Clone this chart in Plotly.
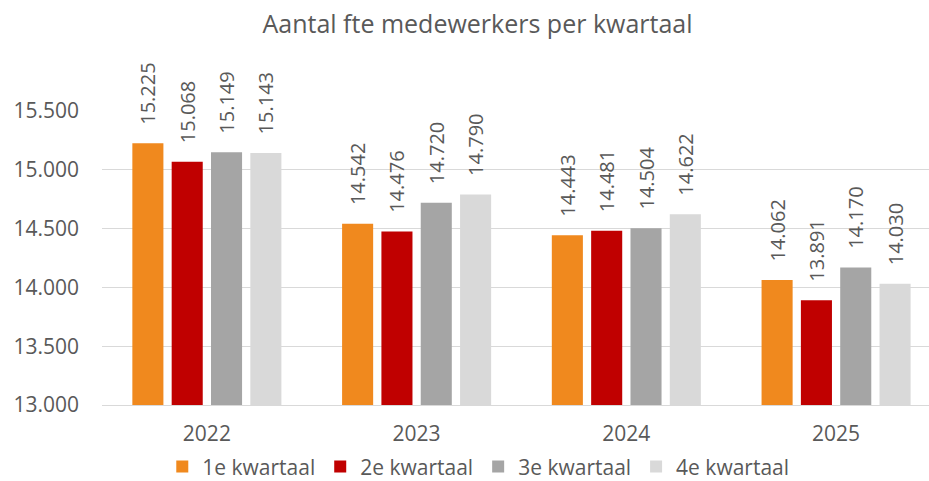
import plotly.graph_objects as go

years = ["2022", "2023", "2024", "2025"]
series_names = ["1e kwartaal", "2e kwartaal", "3e kwartaal", "4e kwartaal"]
q1 = [15225, 14542, 14443, 14062]
q2 = [15068, 14476, 14481, 13891]
q3 = [15149, 14720, 14504, 14170]
q4 = [15143, 14790, 14622, 14030]
colors = ["#F0891E", "#C00000", "#A5A5A5", "#D9D9D9"]

FONT = "Open Sans"
TXT = "#595959"

fig = go.Figure()
for name, vals, col in zip(series_names, [q1, q2, q3, q4], colors):
    fig.add_trace(go.Bar(
        x=years, y=vals, name=name,
        marker=dict(color=col, line=dict(width=0)),
        texttemplate="\u00a0\u00a0\u00a0%{y:,d}",
        textposition="outside",
        textangle=-90,
        constraintext="none",
        cliponaxis=False,
        textfont=dict(family=FONT, size=20, color=TXT),
    ))

fig.update_layout(
    width=929, height=481,
    separators=",.",
    barmode="group",
    bargap=0.25, bargroupgap=0.21,
    plot_bgcolor="white", paper_bgcolor="white",
    margin=dict(l=102, r=0, t=111, b=76, autoexpand=False),
    font=dict(family=FONT, size=20, color=TXT),
    title=dict(text="Aantal fte medewerkers per kwartaal", x=0.514, xanchor="center",
               y=1 - 24/481, yanchor="middle",
               font=dict(family=FONT, size=25, color=TXT)),
    legend=dict(orientation="h", x=0.455, xanchor="center", y=-0.21, yanchor="middle",
                font=dict(family=FONT, size=21, color=TXT), itemwidth=30, traceorder="normal"),
    showlegend=True,
)
fig.update_yaxes(range=[13000, 15500], tickvals=[13000, 13500, 14000, 14500, 15000, 15500],
                 tickformat=",d", showgrid=True, gridcolor="#D9D9D9", gridwidth=1,
                 zeroline=False, showline=False, ticklabelstandoff=22, automargin=False,
                 tickfont=dict(family=FONT, size=21, color=TXT))
fig.update_xaxes(range=[-0.5, 3.443], showline=True, linecolor="#D9D9D9", linewidth=1,
                 ticks="", automargin=False,
                 ticklabelstandoff=10, tickfont=dict(family=FONT, size=21, color=TXT))

fig.write_html("out.html", config={"displayModeBar": False},
               post_script="document.body.style.margin='0';document.body.style.overflow='hidden';")
